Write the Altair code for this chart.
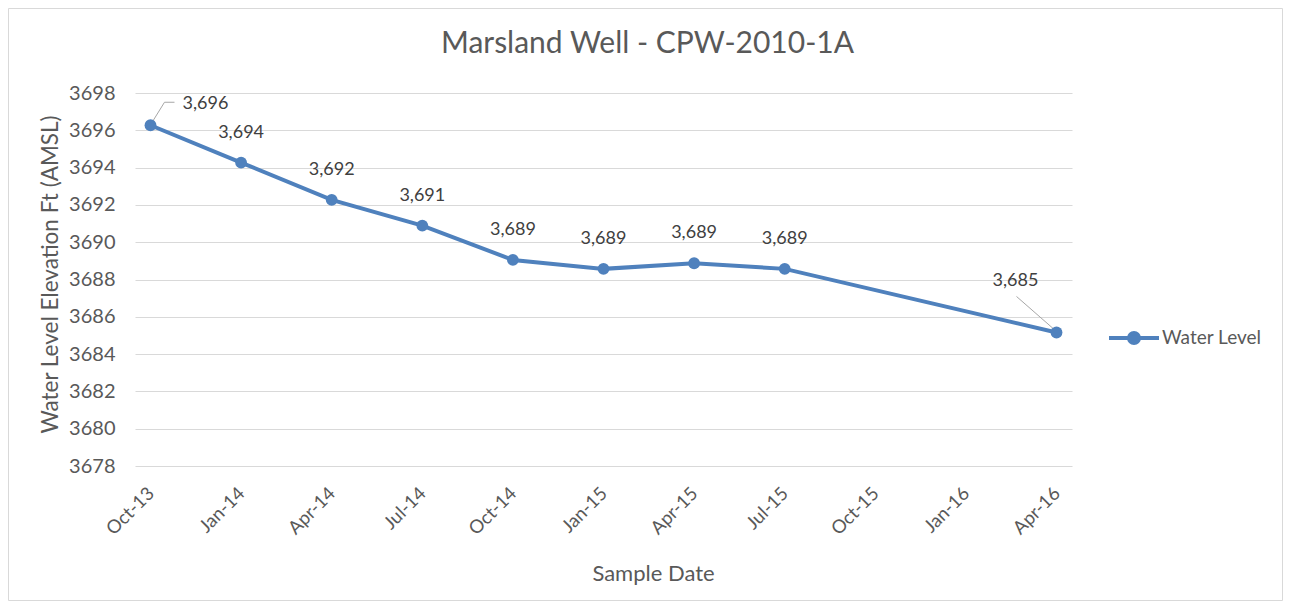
import altair as alt
import pandas as pd

# ---- data ----
quarters = ["Oct-13", "Jan-14", "Apr-14", "Jul-14", "Oct-14", "Jan-15",
            "Apr-15", "Jul-15", "Oct-15", "Jan-16", "Apr-16"]
sample_dates = ["Oct-13", "Jan-14", "Apr-14", "Jul-14", "Oct-14", "Jan-15",
                "Apr-15", "Jul-15", "Apr-16"]
water_levels = [3696.27, 3694.27, 3692.27, 3690.89, 3689.05, 3688.57,
                3688.87, 3688.57, 3685.16]
series_name = ["Water Level"] * len(sample_dates)
y_ticks = list(range(3678, 3699, 2))
chart_title = ["Marsland Well - CPW-2010-1A"]

df = pd.DataFrame({"date": sample_dates, "level": water_levels, "series": series_name})

BLUE = "#4F81BD"
GREY_TXT = "#595959"
FONT = "Lato"

x_enc = alt.X("date:O", sort=quarters,
              scale=alt.Scale(type="point", domain=quarters, padding=0.171),
              axis=alt.Axis(title="Sample Date", labelAngle=-45, labelAlign="right",
                            labelBaseline="middle", labelPadding=24, ticks=False,
                            domain=False, grid=False, labelFontSize=18.5,
                            labelColor=GREY_TXT, titleFontSize=22, titleColor=GREY_TXT,
                            titleFontWeight="normal", titleX=518, titleY=107,
                            titleBaseline="middle", labelFont=FONT, titleFont=FONT,
                            labelOverlap=False))
y_enc = alt.Y("level:Q",
              scale=alt.Scale(domain=[3678, 3698], nice=False, zero=False),
              axis=alt.Axis(title="Water Level Elevation Ft (AMSL)", values=y_ticks,
                            format="d", ticks=False, domain=False, grid=True,
                            gridColor="#D9D9D9", gridWidth=1, labelPadding=20,
                            labelFontSize=20, labelColor=GREY_TXT, titleFontSize=22.5,
                            titleColor=GREY_TXT, titleFontWeight="normal",
                            titleX=-85, titleY=181, titleBaseline="middle",
                            labelFont=FONT, titleFont=FONT, labelOverlap=False))

base = alt.Chart(df)

legend_path = ("M-1,0L1,0M-0.2,0A0.2,0.2,0,1,1,0.2,0A0.2,0.2,0,1,1,-0.2,0Z")

line = base.mark_line(strokeWidth=4).encode(
    x=x_enc, y=y_enc,
    color=alt.Color("series:N", scale=alt.Scale(range=[BLUE]),
                    legend=alt.Legend(title=None, orient="none", legendX=972, legendY=218,
                                      symbolType=legend_path, symbolSize=2500,
                                      symbolStrokeWidth=4, symbolFillColor=BLUE,
                                      symbolStrokeColor=BLUE, labelFontSize=19,
                                      labelColor=GREY_TXT, labelFont=FONT,
                                      labelOffset=1, padding=0)),
)

points = base.mark_point(filled=True, size=140, color=BLUE, opacity=1).encode(
    x=x_enc, y=y_enc)

mid_labels = base.transform_filter(
    (alt.datum.date != "Oct-13") & (alt.datum.date != "Apr-16")
).mark_text(dy=-30, fontSize=18, color="#404040", font=FONT, baseline="middle").encode(
    x=x_enc, y=y_enc, text=alt.Text("level:Q", format=",.0f"))

first_label = base.transform_filter(alt.datum.date == "Oct-13").mark_text(
    dx=55, dy=-21, fontSize=18, color="#404040", font=FONT, baseline="middle"
).encode(x=x_enc, y=y_enc, text=alt.Text("level:Q", format=",.0f"))

last_label = base.transform_filter(alt.datum.date == "Apr-16").mark_text(
    dx=-41, dy=-51, fontSize=18, color="#404040", font=FONT, baseline="middle"
).encode(x=x_enc, y=y_enc, text=alt.Text("level:Q", format=",.0f"))

lead1a = base.transform_filter(alt.datum.date == "Oct-13").mark_rule(
    color="#A6A6A6", strokeWidth=1, xOffset=1, yOffset=-2, x2Offset=14, y2Offset=-23
).encode(x=x_enc, x2="date:O", y=y_enc, y2="level:Q")
lead1b = base.transform_filter(alt.datum.date == "Oct-13").mark_rule(
    color="#A6A6A6", strokeWidth=1, xOffset=14, yOffset=-23, x2Offset=24, y2Offset=-23
).encode(x=x_enc, x2="date:O", y=y_enc, y2="level:Q")
lead2 = base.transform_filter(alt.datum.date == "Apr-16").mark_rule(
    color="#A6A6A6", strokeWidth=1, xOffset=-40, yOffset=-36, x2Offset=0, y2Offset=-1
).encode(x=x_enc, x2="date:O", y=y_enc, y2="level:Q")

border = alt.Chart(pd.DataFrame({"b": [0]})).mark_rect(
    fill=None, stroke="#D9D9D9", strokeWidth=1, clip=False
).encode(x=alt.value(-126.5), x2=alt.value(1147.5), y=alt.value(-84.5), y2=alt.value(507.5))

title = alt.Chart(pd.DataFrame({"t": chart_title})).mark_text(
    fontSize=30, font=FONT, color=GREY_TXT, align="center", baseline="alphabetic"
).encode(text="t:N", x=alt.value(512.5), y=alt.value(-40))

chart = alt.layer(
    border, title, line, lead1a, lead1b, lead2, points, mid_labels, first_label, last_label
).properties(
    width=937, height=373,
    autosize=alt.AutoSizeParams(type="none"),
    padding={"left": 127, "top": 85, "right": 211, "bottom": 135},
).configure_view(stroke=None)

chart.save("out.html", embed_options={"renderer": "svg", "actions": False})
